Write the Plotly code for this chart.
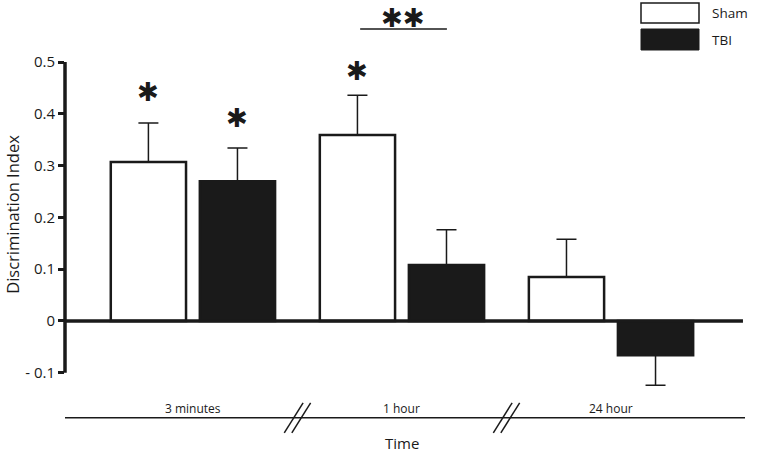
import plotly.graph_objects as go

categories = ["3 minutes", "1 hour", "24 hour"]
sham_mean = [0.307, 0.359, 0.085]
sham_err = [0.075, 0.077, 0.073]
tbi_mean = [0.270, 0.108, -0.066]
tbi_err_up = [0.064, 0.068, 0.0]
tbi_err_down = [0.0, 0.0, 0.058]
y_ticks = [0.5, 0.4, 0.3, 0.2, 0.1, 0.0, -0.1]
y_tick_labels = ["0.5", "0.4", "0.3", "0.2", "0.1", "0", "- 0.1"]

FONT = "Open Sans"
INK = "#1a1a1a"

fig = go.Figure()
fig.add_trace(go.Bar(
    x=categories, y=sham_mean, name="Sham",
    marker=dict(color="white", line=dict(color=INK, width=2.5)),
    error_y=dict(type="data", symmetric=False, array=sham_err,
                 arrayminus=[0, 0, 0], color=INK, thickness=1.5, width=10),
    showlegend=False,
))
fig.add_trace(go.Bar(
    x=categories, y=tbi_mean, name="TBI",
    marker=dict(color=INK, line=dict(color=INK, width=2.5)),
    error_y=dict(type="data", symmetric=False, array=tbi_err_up,
                 arrayminus=tbi_err_down, color=INK, thickness=1.5, width=10),
    showlegend=False,
))

shapes = []
# y axis line
shapes.append(dict(type="line", xref="paper", yref="y", x0=0, x1=0,
                   y0=-0.1, y1=0.5, line=dict(color=INK, width=3.5)))
# zero line
shapes.append(dict(type="line", xref="paper", yref="y", x0=0, x1=0.997,
                   y0=0, y1=0, line=dict(color=INK, width=3.5)))
# bottom time line
shapes.append(dict(type="line", xref="paper", yref="y", x0=0, x1=1,
                   y0=-0.187, y1=-0.187, line=dict(color=INK, width=1.5)))
# break marks
for xb in [0.5, 1.5]:
    for off in [-0.018, 0.018]:
        shapes.append(dict(type="line", xref="x", yref="y",
                           x0=xb + off - 0.045, x1=xb + off + 0.045,
                           y0=-0.216, y1=-0.158,
                           line=dict(color=INK, width=1.5)))
# significance bar
shapes.append(dict(type="line", xref="x", yref="y", x0=0.80, x1=1.215,
                   y0=0.5637, y1=0.5637, line=dict(color=INK, width=1.5)))
# legend boxes
shapes.append(dict(type="rect", xref="paper", yref="paper",
                   x0=(641 - 65) / 680, x1=(699 - 65) / 680,
                   y0=(454 - 23) / 454, y1=(454 - 3) / 454,
                   fillcolor="white", line=dict(color=INK, width=1.5)))
shapes.append(dict(type="rect", xref="paper", yref="paper",
                   x0=(641 - 65) / 680, x1=(699 - 65) / 680,
                   y0=(454 - 50) / 454, y1=(454 - 29) / 454,
                   fillcolor=INK, line=dict(color=INK, width=1)))

annotations = []
for c in categories:
    annotations.append(dict(x=c, y=-0.168, xref="x", yref="y", text=c,
                            showarrow=False, font=dict(family=FONT, size=12, color=INK)))
annotations.append(dict(x=1, y=-0.236, xref="x", yref="y", text="Time",
                        showarrow=False, font=dict(family=FONT, size=15, color=INK)))
annotations.append(dict(x=(13 - 65) / 680, y=0.205, xref="paper", yref="y",
                        xanchor="center", yanchor="middle",
                        text="Discrimination Index", textangle=-90, showarrow=False,
                        font=dict(family=FONT, size=16.5, color=INK)))
annotations.append(dict(x=(710 - 65) / 680, y=(454 - 13) / 454, xref="paper", yref="paper",
                        text="Sham", xanchor="left", yanchor="middle", showarrow=False,
                        font=dict(family=FONT, size=13.5, color=INK)))
annotations.append(dict(x=(710 - 65) / 680, y=(454 - 40) / 454, xref="paper", yref="paper",
                        text="TBI", xanchor="left", yanchor="middle", showarrow=False,
                        font=dict(family=FONT, size=13.5, color=INK)))
# asterisks
star_font = dict(family="DejaVu Sans", size=26, color=INK)
annotations.append(dict(x=-0.213, y=0.442, xref="x", yref="y", text="✱",
                        showarrow=False, font=star_font))
annotations.append(dict(x=0.213, y=0.392, xref="x", yref="y", text="✱",
                        showarrow=False, font=star_font))
annotations.append(dict(x=0.787, y=0.483, xref="x", yref="y", text="✱",
                        showarrow=False, font=star_font))
annotations.append(dict(x=1.007, y=0.585, xref="x", yref="y", text="✱✱",
                        showarrow=False, font=star_font))

fig.update_layout(
    width=760, height=454,
    margin=dict(l=65, r=15, t=0, b=0),
    paper_bgcolor="white", plot_bgcolor="white",
    barmode="group", bargap=0.148, bargroupgap=0.155,
    xaxis=dict(range=[-0.612, 2.641], showticklabels=False, showgrid=False,
               zeroline=False, showline=False, ticks=""),
    yaxis=dict(range=[-0.2568, 0.6197], tickvals=y_ticks, ticktext=y_tick_labels,
               showgrid=False, zeroline=False, showline=False,
               ticks="outside", ticklen=6, tickwidth=3, tickcolor=INK,
               tickfont=dict(family=FONT, size=15, color=INK)),
    shapes=shapes, annotations=annotations,
)

fig.write_html("out.html", config={"displayModeBar": False},
               post_script="document.body.style.margin='0px';document.body.style.overflow='hidden';")
